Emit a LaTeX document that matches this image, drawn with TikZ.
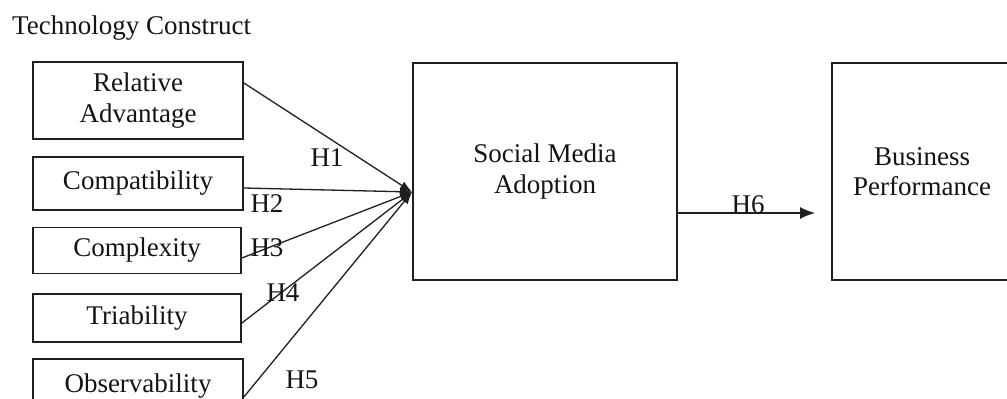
\documentclass[tikz,border=0pt]{standalone}
\usepackage{fontspec}
\setmainfont{Liberation Serif}
\usetikzlibrary{arrows.meta}
\begin{document}
\begin{tikzpicture}[x=1pt,y=-1pt,
  every node/.style={font=\fontsize{27}{30.5}\selectfont, text=black!92},
  box/.style={draw=black!88, line width=1.7pt, rectangle, inner sep=0pt, align=center},
  link/.style={draw=black!88, line width=1.3pt, -{Latex[length=12pt,width=9pt]}},
  hlab/.style={inner sep=0pt}
]
\clip (0,0) rectangle (1007,399);
\fill[white] (0,0) rectangle (1007,399);

\node[anchor=base west, inner sep=0pt] (title) at (12,34) {Technology Construct};

\node[box, minimum width=210, minimum height=77] (ra) at (138,100.5) {Relative\\Advantage};
\node[box, minimum width=210, minimum height=53] (cp) at (138,183.5) {Compatibility};
\node[box, minimum width=208, minimum height=46] (cx) at (137,250.5) {Complexity};
\node[box, minimum width=208, minimum height=48] (tr) at (137,318) {Triability};
\node[box, minimum width=210, minimum height=54] (ob) at (138,386) {Observability};

\node[box, minimum width=264, minimum height=217] (sma) at (545,171.5) {Social Media\\Adoption};
\node[box, minimum width=180, minimum height=217] (bp) at (922,171.5) {Business\\Performance};

\coordinate (conv) at (412,192);
\coordinate (h6end) at (815,213);
\coordinate (h6start) at (677,213);

\draw[link] (ra.east |- 0,83) -- (conv);
\draw[link] (cp.east |- 0,188) -- (conv);
\draw[link] (cx.east |- 0,258) -- (conv);
\draw[link] (tr.east |- 0,323) -- (conv);
\draw[link] (ob.east |- 0,397) -- (conv);

\draw[draw=black!88, line width=1.4pt, -{Latex[length=15pt,width=12pt]}] (h6start) -- (h6end);

\node[hlab] (h1) at (327,158) {H1};
\node[hlab] (h2) at (267,204) {H2};
\node[hlab] (h3) at (267,248) {H3};
\node[hlab] (h4) at (283,293) {H4};
\node[hlab] (h5) at (302,380) {H5};
\node[hlab, anchor=base] (h6) at (748,213) {H6};
\end{tikzpicture}
\end{document}
